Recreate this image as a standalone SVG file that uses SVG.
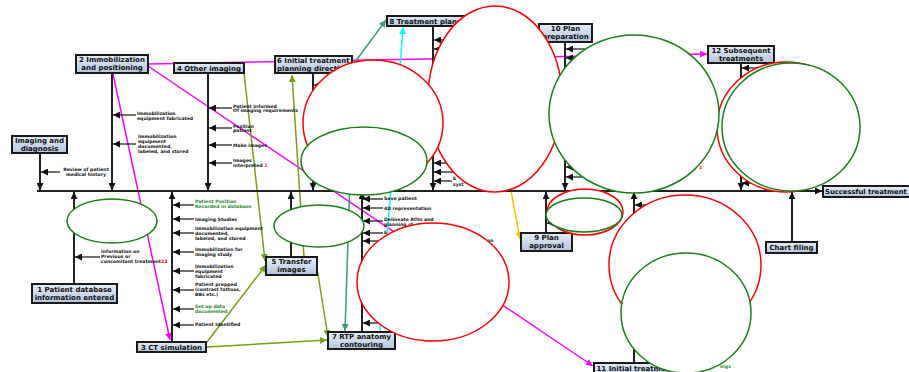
<svg xmlns="http://www.w3.org/2000/svg" width="909" height="372" viewBox="0 0 909 372">
<defs>
<linearGradient id="gb" x1="0" y1="0" x2="0" y2="1"><stop offset="0" stop-color="#e6edf6"/><stop offset="1" stop-color="#b3c5dd"/></linearGradient>
<marker id="ab" viewBox="0 0 10 10" refX="10" refY="5" markerWidth="7" markerHeight="7" markerUnits="userSpaceOnUse" orient="auto"><path d="M0,0 L10,5 L0,10 z" fill="#111"/></marker>
<marker id="am" viewBox="0 0 10 10" refX="10" refY="5" markerWidth="7" markerHeight="7" markerUnits="userSpaceOnUse" orient="auto"><path d="M0,0 L10,5 L0,10 z" fill="#ff00ff"/></marker>
<marker id="ao" viewBox="0 0 10 10" refX="10" refY="5" markerWidth="7" markerHeight="7" markerUnits="userSpaceOnUse" orient="auto"><path d="M0,0 L10,5 L0,10 z" fill="#76a012"/></marker>
<marker id="at" viewBox="0 0 10 10" refX="10" refY="5" markerWidth="7" markerHeight="7" markerUnits="userSpaceOnUse" orient="auto"><path d="M0,0 L10,5 L0,10 z" fill="#3c9a78"/></marker>
<marker id="ac" viewBox="0 0 10 10" refX="10" refY="5" markerWidth="7" markerHeight="7" markerUnits="userSpaceOnUse" orient="auto"><path d="M0,0 L10,5 L0,10 z" fill="#00ffff"/></marker>
<marker id="ag" viewBox="0 0 10 10" refX="10" refY="5" markerWidth="7" markerHeight="7" markerUnits="userSpaceOnUse" orient="auto"><path d="M0,0 L10,5 L0,10 z" fill="#ffc000"/></marker>
</defs>
<style>
.bx{fill:url(#gb);stroke:#1a1a1a;stroke-width:2}
.bt{font-family:"DejaVu Sans",Verdana,sans-serif;font-weight:bold;font-size:7px;fill:#111;text-anchor:middle}
.bl{text-anchor:start}
.st{font-family:"DejaVu Sans",Verdana,sans-serif;font-weight:bold;font-size:4.6px;fill:#111}
.sm{text-anchor:middle}
.sg{fill:#1e8c1e}
.sr{fill:#ff0000}
.bone{stroke:#222;stroke-width:2;fill:none;marker-end:url(#ab)}
.sub{stroke:#111;stroke-width:1.2;fill:none;marker-end:url(#ab)}
.mg{stroke:#ff00ff;stroke-width:1.5;fill:none;marker-end:url(#am)}
.ol{stroke:#76a012;stroke-width:1.5;fill:none;marker-end:url(#ao)}
.tl{stroke:#3c9a78;stroke-width:1.5;fill:none;marker-end:url(#at)}
.cy{stroke:#00ffff;stroke-width:1.5;fill:none;marker-end:url(#ac)}
.gd{stroke:#ffc000;stroke-width:1.5;fill:none;marker-end:url(#ag)}
.red{fill:#fff;stroke:#ff0000;stroke-width:1.5}
.grn{fill:#fff;stroke:#168016;stroke-width:1.5}
</style>
<rect width="909" height="372" fill="#fff"/>
<g id="connectors">
<line class="mg" x1="148" y1="64" x2="707" y2="54"/>
<line class="mg" x1="148" y1="66" x2="593" y2="366"/>
<line class="mg" x1="113" y1="74" x2="170" y2="340"/>
<line class="ol" x1="244" y1="73" x2="265" y2="261"/>
<line class="ol" x1="207" y1="342" x2="266" y2="265"/>
<line class="ol" x1="207" y1="347" x2="327" y2="340"/>
<line class="ol" x1="304" y1="257" x2="292" y2="75"/>
<line class="ol" x1="316" y1="262" x2="328" y2="337"/>
<line class="tl" x1="355" y1="62" x2="386" y2="20"/>
<line class="tl" x1="350" y1="180" x2="345" y2="331"/>
<line class="cy" x1="380" y1="332" x2="403" y2="27"/>
<line class="gd" x1="507" y1="170" x2="520" y2="239"/>
<line class="bone" x1="37" y1="191" x2="822" y2="191"/>
<line class="bone" x1="40" y1="153" x2="40" y2="190"/>
<line class="bone" x1="112" y1="73" x2="112" y2="190"/>
<line class="bone" x1="208" y1="73" x2="208" y2="190"/>
<line class="bone" x1="313" y1="73" x2="313" y2="190"/>
<line class="bone" x1="433" y1="26" x2="433" y2="190"/>
<line class="bone" x1="565" y1="42" x2="565" y2="190"/>
<line class="bone" x1="741" y1="63" x2="741" y2="190"/>
<line class="bone" x1="74" y1="284" x2="74" y2="192"/>
<line class="bone" x1="172" y1="342" x2="172" y2="192"/>
<line class="bone" x1="291" y1="257" x2="291" y2="192"/>
<line class="bone" x1="362" y1="332" x2="362" y2="192"/>
<line class="bone" x1="546" y1="233" x2="546" y2="192"/>
<line class="bone" x1="634" y1="364" x2="634" y2="192"/>
<line class="bone" x1="792" y1="242" x2="792" y2="192"/>
<line class="sub" x1="60" y1="172" x2="41" y2="172"/>
<line class="sub" x1="136" y1="115" x2="113" y2="115"/>
<line class="sub" x1="136" y1="144" x2="113" y2="144"/>
<line class="sub" x1="232" y1="108" x2="209" y2="108"/>
<line class="sub" x1="232" y1="128" x2="209" y2="128"/>
<line class="sub" x1="232" y1="145" x2="209" y2="145"/>
<line class="sub" x1="232" y1="163" x2="209" y2="163"/>
<line class="sub" x1="325" y1="85" x2="314" y2="85"/>
<line class="sub" x1="452" y1="40" x2="434" y2="40"/>
<line class="sub" x1="452" y1="49" x2="434" y2="49"/>
<line class="sub" x1="455" y1="163" x2="434" y2="163"/>
<line class="sub" x1="455" y1="172" x2="434" y2="172"/>
<line class="sub" x1="452" y1="181" x2="434" y2="181"/>
<line class="sub" x1="585" y1="49" x2="566" y2="49"/>
<line class="sub" x1="585" y1="58" x2="566" y2="58"/>
<line class="sub" x1="585" y1="167" x2="566" y2="167"/>
<line class="sub" x1="585" y1="177" x2="566" y2="177"/>
<line class="sub" x1="760" y1="68" x2="742" y2="68"/>
<line class="sub" x1="760" y1="183" x2="742" y2="183"/>
<line class="sub" x1="100" y1="257" x2="75" y2="257"/>
<line class="sub" x1="194" y1="205" x2="173" y2="205"/>
<line class="sub" x1="194" y1="219" x2="173" y2="219"/>
<line class="sub" x1="194" y1="233" x2="173" y2="233"/>
<line class="sub" x1="194" y1="252" x2="173" y2="252"/>
<line class="sub" x1="194" y1="271" x2="173" y2="271"/>
<line class="sub" x1="194" y1="290" x2="173" y2="290"/>
<line class="sub" x1="194" y1="309" x2="173" y2="309"/>
<line class="sub" x1="194" y1="325" x2="173" y2="325"/>
<line class="sub" x1="383" y1="199" x2="363" y2="199"/>
<line class="sub" x1="383" y1="208" x2="363" y2="208"/>
<line class="sub" x1="383" y1="221" x2="363" y2="221"/>
<line class="sub" x1="383" y1="233" x2="363" y2="233"/>
<line class="sub" x1="383" y1="241" x2="363" y2="241"/>
<line class="sub" x1="383" y1="323" x2="363" y2="323"/>
<line class="sub" x1="560" y1="223" x2="547" y2="223"/>
<line class="sub" x1="650" y1="205" x2="635" y2="205"/>
</g>
<g id="sublabels">
<text class="st sm" x="86" y="170.5">Review of patient<tspan x="86" dy="5">medical history</tspan></text>
<text class="st" x="137" y="114.5">Immobilization<tspan x="137" dy="5">equipment fabricated</tspan></text>
<text class="st" x="138" y="137.5">Immobilization<tspan x="138" dy="5">equipment</tspan><tspan x="138" dy="5">documented,</tspan><tspan x="138" dy="5">labeled, and stored</tspan></text>
<text class="st" x="233" y="107.5">Patient informed<tspan x="233" dy="4.8">Of imaging requirements</tspan></text>
<text class="st" x="233" y="127.5">Position<tspan x="233" dy="4.8">patient</tspan></text>
<text class="st" x="233" y="146.8">Make images</text>
<text class="st" x="233" y="162.3">Images<tspan x="233" dy="4.8">interpreted </tspan><tspan class="sr">1</tspan></text>
<text class="st" x="101" y="253.3">Information on<tspan x="101" dy="5">Previous or</tspan><tspan x="101" dy="5">concomitant treatment</tspan><tspan class="sr">22</tspan></text>
<text class="st sg" x="195" y="203">Patient Position<tspan x="195" dy="5">Recorded in database</tspan></text>
<text class="st" x="195" y="220.8">Imaging Studies</text>
<text class="st" x="195" y="229.8">Immobilization equipment<tspan x="195" dy="5">documented,</tspan><tspan x="195" dy="5">labeled, and stored</tspan></text>
<text class="st" x="195" y="251.3">Immobilization for<tspan x="195" dy="5">imaging study</tspan></text>
<text class="st" x="195" y="267.6">Immobilization<tspan x="195" dy="5">equipment</tspan><tspan x="195" dy="5">fabricated</tspan></text>
<text class="st" x="195" y="286.3">Patient prepped<tspan x="195" dy="5">(contrast tattoos,</tspan><tspan x="195" dy="5">BBs etc.)</tspan></text>
<text class="st sg" x="195" y="307.5">Set up data<tspan x="195" dy="5">documented</tspan></text>
<text class="st" x="195" y="326.3">Patient Identified</text>
<text class="st" x="384" y="200.4">Save patient</text>
<text class="st" x="384" y="209.5">4D representation</text>
<text class="st" x="384" y="220.8">Delineate ROIs and<tspan x="384" dy="5">planning st</tspan></text>
<text class="st" x="384" y="234">E</text>
<text class="st" x="487" y="242">on</text>
<text class="st" x="453" y="180">E<tspan x="453" dy="5.5">syst</tspan></text>
<text class="st sr" x="699" y="169">1</text>
<text class="st sg" x="720" y="368">ings</text>
</g>
<g id="n-imaging"><rect class="bx" x="12" y="136" width="55" height="17"/><text class="bt" x="39.5" y="143.3">Imaging and<tspan x="39.5" dy="7.6">diagnosis</tspan></text></g>
<g id="n2"><rect class="bx" x="76" y="55" width="72" height="18"/><text class="bt" x="112" y="62.2">2 Immobilization<tspan x="112" dy="8">and positioning</tspan></text></g>
<g id="n4"><rect class="bx" x="174" y="63" width="70" height="10"/><text class="bt" x="209" y="70.6">4 Other imaging</text></g>
<g id="n6"><rect class="bx" x="275" y="56" width="77" height="17"/><text class="bt bl" x="277" y="63">6 Initial treatment<tspan x="277" dy="7.8">planning directive</tspan></text></g>
<g id="n8"><rect class="bx" x="387" y="16" width="95" height="10"/><text class="bt bl" x="389.5" y="23.6">8 Treatment planning</text></g>
<g id="n10"><rect class="bx" x="539" y="24" width="53" height="18"/><text class="bt" x="565.5" y="31.2">10 Plan<tspan x="565.5" dy="8">preparation</tspan></text></g>
<g id="n12"><rect class="bx" x="708" y="46" width="66" height="17"/><text class="bt" x="741" y="53.3">12 Subsequent<tspan x="741" dy="7.8">treatments</tspan></text></g>
<g id="n-success"><rect class="bx" x="823" y="186" width="92" height="11"/><text class="bt bl" x="825" y="194.3" style="font-size:6.8px">Successful treatment</text></g>
<g id="n1"><rect class="bx" x="32" y="284" width="85" height="19"/><text class="bt" x="74.5" y="291.6">1 Patient database<tspan x="74.5" dy="8.2">information entered</tspan></text></g>
<g id="n3"><rect class="bx" x="137" y="342" width="69" height="10"/><text class="bt" x="171.5" y="349.6">3 CT simulation</text></g>
<g id="n5"><rect class="bx" x="266" y="257" width="51" height="18"/><text class="bt" x="291.5" y="264.3">5 Transfer<tspan x="291.5" dy="8">images</tspan></text></g>
<g id="n7"><rect class="bx" x="328" y="332" width="67" height="17"/><text class="bt" x="361.5" y="339.3">7 RTP anatomy<tspan x="361.5" dy="7.8">contouring</tspan></text></g>
<g id="n9"><rect class="bx" x="521" y="233" width="51" height="18"/><text class="bt" x="546.5" y="240.3">9 Plan<tspan x="546.5" dy="8">approval</tspan></text></g>
<g id="n-chart"><rect class="bx" x="766" y="242" width="51" height="11"/><text class="bt" x="791.5" y="250.2">Chart filing</text></g>
<g id="n11"><rect class="bx" x="594" y="363" width="95" height="14"/><text class="bt bl" x="596.5" y="370.6">11 Initial treatment</text></g>
<g id="ellipses">
<ellipse class="red" cx="495" cy="99" rx="67" ry="93"/>
<ellipse class="red" cx="373" cy="123" rx="70" ry="63"/>
<ellipse class="red" cx="433" cy="282" rx="76" ry="59"/>
<ellipse class="red" cx="786" cy="127" rx="69" ry="65"/>
<ellipse class="red" cx="685" cy="265" rx="76" ry="70"/>
<ellipse class="red" cx="585" cy="212" rx="38" ry="23"/>
<ellipse class="grn" cx="112" cy="221" rx="45" ry="22"/>
<ellipse class="grn" cx="364" cy="161" rx="63" ry="34"/>
<ellipse class="grn" cx="319" cy="226" rx="45" ry="21"/>
<ellipse class="grn" cx="634" cy="114" rx="85" ry="79"/>
<ellipse class="grn" cx="791" cy="127" rx="69" ry="64"/>
<ellipse class="grn" cx="686" cy="313" rx="65" ry="60"/>
<ellipse class="grn" cx="584" cy="215" rx="38" ry="17"/>
</g>
</svg>
